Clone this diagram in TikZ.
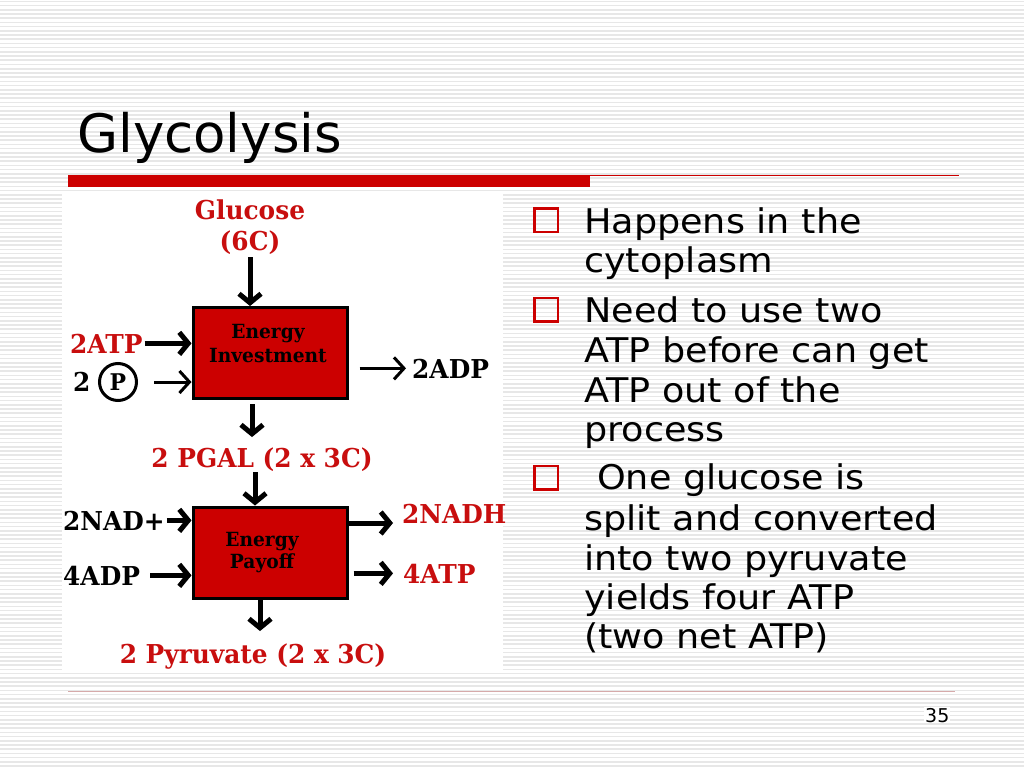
\documentclass[tikz,border=0pt]{standalone}
\usepackage{fontspec}
\setmainfont{DejaVu Sans}
\newfontfamily\dfont[FakeStretch=0.955]{DejaVu Serif}
\newfontfamily\bfont[FakeStretch=1.075]{DejaVu Sans}
\usetikzlibrary{arrows.meta}
\definecolor{barred}{RGB}{204,0,0}
\definecolor{dred}{RGB}{200,14,14}
\definecolor{boxred}{RGB}{204,0,0}
\definecolor{stripe}{RGB}{231,231,231}
\definecolor{footline}{RGB}{214,170,170}
\begin{document}
\begin{tikzpicture}[x=1pt,y=-1pt,
  lbl/.style={inner sep=0pt, font=\dfont\bfseries\fontsize{26}{30}\selectfont},
  rlbl/.style={lbl, text=dred},
  btxt/.style={inner sep=0pt, font=\dfont\bfseries\fontsize{19.5}{22}\selectfont},
  ebox/.style={draw=black, line width=3pt, fill=boxred, minimum width=154pt, minimum height=91pt, inner sep=0pt},
  arrT/.style={line width=5pt, -{Straight Barb[length=9pt,width=22pt]}},
  arrt/.style={line width=3pt, -{Straight Barb[length=10pt,width=22pt]}},
  bul/.style={inner sep=0pt, anchor=base west, font=\bfont\fontsize{34}{40}\selectfont},
  sq/.style={draw=barred, line width=2.5pt, minimum size=23.5pt, inner sep=0pt}
]
\useasboundingbox (0,0) rectangle (1024,768);
\fill[white] (0,0) rectangle (1024,768);
\foreach \i in {0,...,182} {
  \draw[stripe, line width=1.6pt] (0,{\i*4.2+1.5}) -- (1024,{\i*4.2+1.5});
}
% title
\node[inner sep=0pt, anchor=base west, font=\fontsize{53}{60}\selectfont] (title) at (77,152) {Glycolysis};
\fill[barred] (68,175) rectangle (590,187);
\draw[barred, line width=1pt] (590,175.5) -- (959,175.5);
\draw[footline, line width=1pt] (68,691) -- (955,691);
\node[inner sep=1pt, fill=white, anchor=base west, font=\fontsize{19}{22}\selectfont] (pnum) at (924,722) {35};

% diagram area
\fill[white] (62,194) rectangle (503,672);

\node[rlbl, anchor=base] (glu) at (250,219) {Glucose};
\node[rlbl, anchor=base] (c6) at (250,250) {(6C)};
\node[ebox] (inv) at (270,353) {};
\node[btxt, anchor=base] (invt1) at (268,338) {Energy};
\node[btxt, anchor=base] (invt2) at (268,362) {Investment};
\node[rlbl, anchor=base west] (atp) at (70,353) {2ATP};
\node[lbl, anchor=base west] (two) at (73,391) {2};
\node[draw=black, line width=3pt, circle, minimum size=37pt, inner sep=0pt, font=\dfont\bfseries\fontsize{23}{26}\selectfont] (pc) at (118,382) {P};
\node[lbl, anchor=base west] (adp) at (412,378) {2ADP};
\node[rlbl, anchor=base] (pgal) at (262,467) {2 PGAL (2 x 3C)};
\node[ebox] (pay) at (270,552.5) {};
\node[btxt, anchor=base] (payt1) at (262,546) {Energy};
\node[btxt, anchor=base] (payt2) at (262,568) {Payoff};
\node[lbl, anchor=base west] (nad) at (63,530) {2NAD+};
\node[lbl, anchor=base west] (adp4) at (63,585) {4ADP};
\node[rlbl, anchor=base west] (nadh) at (402,523) {2NADH};
\node[rlbl, anchor=base west] (atp4) at (403,583) {4ATP};
\node[rlbl, anchor=base] (pyr) at (253,663) {2 Pyruvate (2 x 3C)};

\draw[arrT] ([yshift=-3pt]c6.south) -- (c6.south |- inv.north);
\draw[arrT] ([xshift=2pt]atp.east) -- (atp.east -| inv.west);
\draw[arrt] ([xshift=16pt]pc.east) -- (pc.east -| inv.west);
\draw[arrt, shorten <=11pt] (inv.east |- adp.west) -- ([xshift=-6pt]adp.west);
\draw[arrT] ([xshift=-18pt,yshift=-4pt]inv.south) -- ([xshift=-10pt,yshift=10pt]pgal.north);
\draw[arrT] ([xshift=-7pt,yshift=-1pt]pgal.south) -- ([xshift=-15pt]pay.north);
\draw[arrT] ([xshift=2pt]nad.east) -- (nad.east -| pay.west);
\draw[arrT] ([xshift=10pt]adp4.east) -- (adp4.east -| pay.west);
\draw[arrT] (pay.east |- nadh.base west) -- ([xshift=-9pt]nadh.base west);
\draw[arrT, shorten <=5pt] (pay.east |- atp4.west) -- ([xshift=-10pt]atp4.west);
\draw[arrT] ([xshift=-10pt]pay.south) -- ([xshift=7pt,yshift=12pt]pyr.north);

% bullets
\node[sq] (s1) at (546,220) {};
\node[sq] (s2) at (546,309.5) {};
\node[sq] (s3) at (546,477.5) {};
\node[bul] (l1) at (584,233) {Happens in the};
\node[bul] (l2) at (584,272) {cytoplasm};
\node[bul] (l3) at (584,322) {Need to use two};
\node[bul] (l4) at (584,362) {ATP before can get};
\node[bul] (l5) at (584,402) {ATP out of the};
\node[bul] (l6) at (584,441) {process};
\node[bul] (l7) at (597,489) {One glucose is};
\node[bul] (l8) at (584,530) {split and converted};
\node[bul] (l9) at (584,570) {into two pyruvate};
\node[bul] (l10) at (584,609) {yields four ATP};
\node[bul] (l11) at (584,648) {(two net ATP)};
\end{tikzpicture}
\end{document}
